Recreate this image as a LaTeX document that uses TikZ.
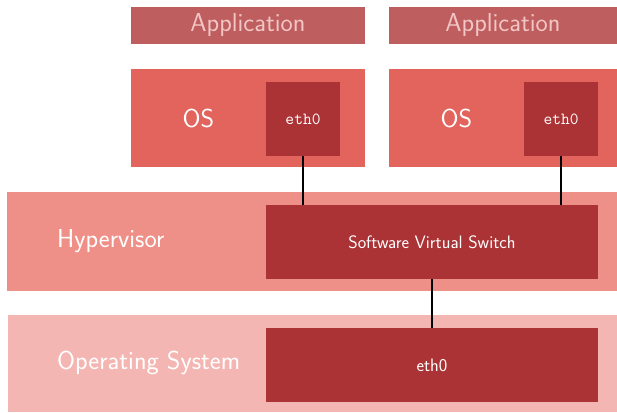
\documentclass[tikz,border=0pt]{standalone}
\usepackage{tikz}

\definecolor{appred}{HTML}{BF5E5E}
\definecolor{osred}{HTML}{E2645C}
\definecolor{nicred}{HTML}{AB3335}
\definecolor{hyperred}{HTML}{EF9088}
\definecolor{hostred}{HTML}{F4B6B2}
\definecolor{apptext}{HTML}{F2C6C6}

\tikzset{
  block/.style={anchor=north west, inner sep=0pt, outer sep=0pt},
  bigtext/.style={font=\sffamily\fontsize{26}{30}\selectfont, text=white, inner sep=0pt},
  midtext/.style={font=\sffamily\fontsize{18}{22}\selectfont, text=white},
  nictext/.style={font=\ttfamily\fontsize{17}{20}\selectfont, text=white},
  wire/.style={line width=2pt, black}
}

\begin{document}
\begin{tikzpicture}[x=1pt, y=-1pt]

\useasboundingbox (0,0) rectangle (617,412);

%% guests
\node[block, fill=appred, minimum width=234pt, minimum height=37pt] (app1) at (131,7) {};
\node[bigtext, text=apptext] at (app1.center) {Application};
\node[block, fill=appred, minimum width=228pt, minimum height=37pt] (app2) at (389,7) {};
\node[bigtext, text=apptext] at (app2.center) {Application};

\node[block, fill=osred, minimum width=234pt, minimum height=98pt] (os1) at (131,69) {};
\node[block, fill=osred, minimum width=228pt, minimum height=98pt] (os2) at (389,69) {};
\node[bigtext] (oslabel1) at (198.5,118) {OS};
\node[bigtext] (oslabel2) at (456.5,118) {OS};

\node[block, fill=nicred, minimum width=74pt, minimum height=74pt, nictext] (nic1) at (266,82) {eth0};
\node[block, fill=nicred, minimum width=74pt, minimum height=74pt, nictext] (nic2) at (524,82) {eth0};

%% hypervisor
\node[block, fill=hyperred, minimum width=610pt, minimum height=99pt] (hyper) at (7,192) {};
\node[bigtext, anchor=west] (hyperlabel) at (57,241.5) {Hypervisor};
\node[block, fill=nicred, minimum width=332pt, minimum height=74pt, midtext] (vswitch) at (266,205) {Software Virtual Switch};

%% host
\node[block, fill=hostred, minimum width=609pt, minimum height=97pt] (host) at (8,315) {};
\node[bigtext, anchor=west] (hostlabel) at (57,363) {Operating System};
\node[block, fill=nicred, minimum width=332pt, minimum height=74pt, midtext] (hostnic) at (266,328) {eth0};

%% wires
\draw[wire] (nic1.south) -- (nic1.south |- vswitch.north);
\draw[wire] (nic2.south) -- (nic2.south |- vswitch.north);
\draw[wire] (vswitch.south) -- (hostnic.north);

\end{tikzpicture}
\end{document}
